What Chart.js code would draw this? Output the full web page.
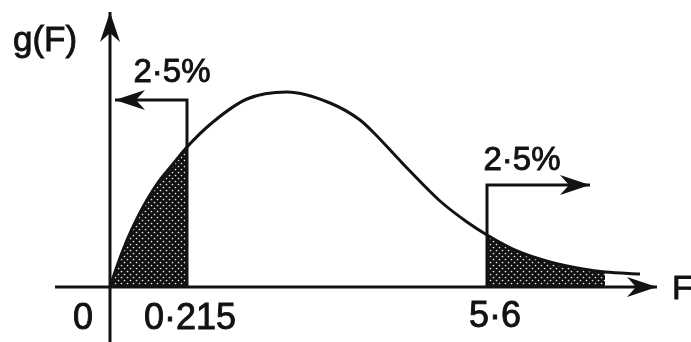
<!DOCTYPE html>
<html lang="en">
<head>
<meta charset="UTF-8">
<title>F distribution – two-tailed critical region</title>
<script src="https://cdn.jsdelivr.net/npm/chart.js@4.4.0/dist/chart.umd.min.js"></script>
<style>
  html, body { margin: 0; padding: 0; background: #fff; }
  #wrap { position: relative; width: 691px; height: 342px; }
</style>
</head>
<body>
<div id="wrap"><canvas id="fChart"></canvas></div>
<script>
// density g(F), schematic units (the sketch is not to scale)
const curveX = [0, 0.05, 0.13, 0.22, 0.33, 0.47, 0.63, 0.77, 1.03, 1.37, 1.77, 2.2, 2.5, 2.63, 2.97, 3.3, 3.57, 3.77, 4.07, 4.4, 4.73, 4.95, 5.3];
const curveY = [0, 0.15, 0.37, 0.58, 0.8, 1.03, 1.23, 1.4, 1.65, 1.88, 1.95, 1.84, 1.67, 1.55, 1.19, 0.86, 0.65, 0.52, 0.36, 0.25, 0.18, 0.15, 0.13];

// critical values and where they sit on the drawn F axis
const critLabels = ['0·215', '5·6'];
const critPos = [0.77, 3.77];
const tailEnd = 4.95;
const tailLabel = '2·5%';
const originLabel = '0';
const xTitle = 'F';
const yTitle = 'g(F)';

const ink = '#121212';

const pts = curveX.map((x, i) => ({ x: x, y: curveY[i] }));
const leftTail = pts.filter(p => p.x <= critPos[0]);
const rightTail = pts.filter(p => p.x >= critPos[1] && p.x <= tailEnd);

// axes and the two "2.5%" brackets
const xAxisLine = [{ x: -0.55, y: 0 }, { x: 5.47, y: 0 }];
const yAxisLine = [{ x: 0, y: -0.6 }, { x: 0, y: 2.75 }];
const leftBracket = [{ x: critPos[0], y: 0 }, { x: critPos[0], y: 1.87 }, { x: 0.05, y: 1.87 }];
const rightBracket = [{ x: critPos[1], y: 0 }, { x: critPos[1], y: 1.02 }, { x: 4.8, y: 1.02 }];

// dark stipple used for the rejection regions
function stipple(ctx) {
    const c = document.createElement('canvas');
    c.width = 6; c.height = 6;
    const g = c.getContext('2d');
    g.fillStyle = '#111';
    g.fillRect(0, 0, 6, 6);
    g.fillStyle = '#e8e8e8';
    [[1.5, 1.5], [4.5, 4.5]].forEach(([x, y]) => {
        g.beginPath();
        g.arc(x, y, 0.85, 0, Math.PI * 2);
        g.fill();
    });
    return ctx.createPattern(c, 'repeat');
}

// barbed arrowhead at the last point of any dataset flagged with arrow: true
const arrowHeads = {
    id: 'arrowHeads',
    afterDatasetsDraw(chart) {
        const ctx = chart.ctx;
        chart.data.datasets.forEach((ds, i) => {
            if (!ds.arrow) return;
            const el = chart.getDatasetMeta(i).data;
            const a = el[el.length - 2], b = el[el.length - 1];
            const ang = Math.atan2(b.y - a.y, b.x - a.x);
            const L = 30, W = 10, N = 21;
            ctx.save();
            ctx.translate(b.x, b.y);
            ctx.rotate(ang);
            ctx.fillStyle = ink;
            ctx.beginPath();
            ctx.moveTo(0, 0);
            ctx.lineTo(-L, -W);
            ctx.lineTo(-N, 0);
            ctx.lineTo(-L, W);
            ctx.closePath();
            ctx.fill();
            ctx.restore();
        });
    }
};

const texts = [
    { text: yTitle, x: -0.97, y: 2.36, size: 35, align: 'left' },
    { text: tailLabel, x: 0.62, y: 2.05, size: 33, align: 'center' },
    { text: tailLabel, x: 4.12, y: 1.17, size: 33, align: 'center' },
    { text: originLabel, x: -0.27, y: -0.42, size: 36, align: 'center' },
    { text: critLabels[0], x: critPos[0] + 0.03, y: -0.42, size: 36, align: 'center' },
    { text: critLabels[1], x: critPos[1] + 0.08, y: -0.4, size: 36, align: 'center' },
    { text: xTitle, x: 5.62, y: -0.115, size: 34, align: 'left' }
];

const figureText = {
    id: 'figureText',
    afterDraw(chart) {
        const { ctx, scales: { x, y } } = chart;
        ctx.save();
        ctx.fillStyle = ink;
        ctx.strokeStyle = ink;
        ctx.lineWidth = 0.9;
        ctx.textBaseline = 'alphabetic';
        texts.forEach(t => {
            ctx.font = t.size + 'px "Liberation Sans", Arial, sans-serif';
            ctx.textAlign = t.align;
            const px = x.getPixelForValue(t.x), py = y.getPixelForValue(t.y);
            ctx.fillText(t.text, px, py);
            ctx.strokeText(t.text, px, py);
        });
        ctx.restore();
    }
};

function lineSet(data, arrow) {
    return {
        data: data, showLine: true, fill: false, arrow: arrow,
        borderColor: ink, borderWidth: 3, pointRadius: 0,
        tension: 0, borderCapStyle: 'butt', borderJoinStyle: 'miter'
    };
}

const ctx = document.getElementById('fChart').getContext('2d');
const pattern = stipple(ctx);

new Chart(ctx, {
    type: 'scatter',
    data: {
        datasets: [
            lineSet(xAxisLine, true),
            lineSet(yAxisLine, true),
            lineSet(leftBracket, true),
            lineSet(rightBracket, true),
            {
                data: pts, showLine: true, fill: false,
                borderColor: ink, borderWidth: 3, pointRadius: 0,
                cubicInterpolationMode: 'monotone'
            },
            {
                data: leftTail, showLine: true, fill: 'origin',
                backgroundColor: pattern, borderWidth: 0, pointRadius: 0,
                cubicInterpolationMode: 'monotone'
            },
            {
                data: rightTail, showLine: true, fill: 'origin',
                backgroundColor: pattern, borderWidth: 0, pointRadius: 0,
                cubicInterpolationMode: 'monotone'
            }
        ]
    },
    options: {
        responsive: true,
        maintainAspectRatio: false,
        animation: false,
        layout: { padding: 0 },
        plugins: {
            legend: { display: false },
            tooltip: { enabled: false }
        },
        scales: {
            x: { type: 'linear', display: false, min: -1.1, max: 5.81 },
            y: { type: 'linear', display: false, min: -0.55, max: 2.87 }
        }
    },
    plugins: [arrowHeads, figureText]
});
</script>
</body>
</html>
